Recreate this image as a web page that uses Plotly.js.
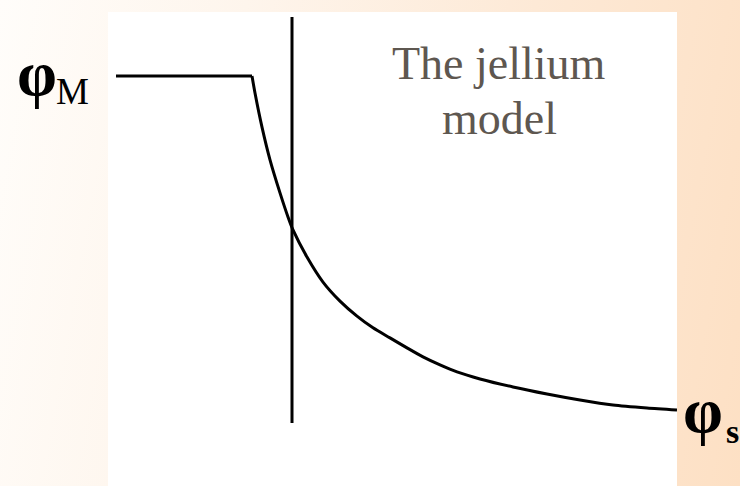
<!DOCTYPE html>
<html>
<head>
<meta charset="utf-8">
<script src="https://cdn.plot.ly/plotly-3.0.1.min.js"></script>
<style>
  html, body { margin:0; padding:0; }
  body {
    width:740px; height:486px; overflow:hidden;
    background: linear-gradient(100deg, #FFFDFA 0%, #FEF5EC 30%, #FDE9D6 65%, #FDE0C4 100%);
  }
  #chart { width:740px; height:486px; }
</style>
</head>
<body>
<div id="chart"></div>
<script>
// Inside the metal: constant potential phi_M (normalised to 1)
const metalX = [-17.6, -4.0];
const metalY = [1.000, 1.000];
// Near and outside the surface: decaying potential (distance in arbitrary units)
const distance  = [-4.0, -3.7, -3.0, -2.2, -1.2, -0.4, 0.1, 1.5, 3.1, 4.8, 6.5, 8.1, 9.8, 11.5, 13.1, 14.8, 16.5, 18.8, 22.1, 25.5, 28.8, 32.1, 35.5, 38.5];
const potential = [1.000, 0.949, 0.847, 0.749, 0.650, 0.578, 0.539, 0.458, 0.383, 0.326, 0.281, 0.246, 0.216, 0.186, 0.159, 0.135, 0.114, 0.093, 0.069, 0.048, 0.030, 0.015, 0.006, 0.000];
// Metal surface (jellium edge)
const surfaceX = [0, 0];
const surfaceY = [1.1766, -0.0389];
// Labels
const labelTitle1 = "The jellium";
const labelTitle2 = "model";
const labelPhi = "φ";
const labelM = "M";
const labelS = "s";

const traces = [
  {x: metalX, y: metalY, mode: 'lines', line: {color: '#000', width: 3}, hoverinfo: 'skip'},
  {x: distance, y: potential, mode: 'lines', line: {color: '#000', width: 3, shape: 'spline', smoothing: 0.7}, hoverinfo: 'skip'},
  {x: surfaceX, y: surfaceY, mode: 'lines', line: {color: '#000', width: 3}, hoverinfo: 'skip'}
];

const serif = 'Liberation Serif, Times New Roman, serif';
const layout = {
  width: 740, height: 486,
  margin: {l: 108, r: 63, t: 12, b: 0, pad: 0},
  paper_bgcolor: 'rgba(0,0,0,0)',
  plot_bgcolor: '#FFFFFF',
  showlegend: false,
  xaxis: {range: [-18.4, 38.5], visible: false, fixedrange: true},
  yaxis: {range: [-0.2275, 1.1916], visible: false, fixedrange: true},
  annotations: [
    {xref: 'paper', yref: 'paper', x: 0.688, y: 0.892, text: labelTitle1, showarrow: false,
     font: {family: serif, size: 46, color: '#5E5750'}, xanchor: 'center', yanchor: 'middle'},
    {xref: 'paper', yref: 'paper', x: 0.688, y: 0.776, text: labelTitle2, showarrow: false,
     font: {family: serif, size: 46, color: '#5E5750'}, xanchor: 'center', yanchor: 'middle'},
    {xref: 'paper', yref: 'paper', x: -0.125, y: 0.871, text: '<b>' + labelPhi + '</b>', showarrow: false,
     font: {family: serif, size: 64, color: '#000'}, xanchor: 'center', yanchor: 'middle'},
    {xref: 'paper', yref: 'paper', x: -0.0624, y: 0.833, text: labelM, showarrow: false,
     font: {family: serif, size: 37, color: '#000'}, xanchor: 'center', yanchor: 'middle'},
    {xref: 'paper', yref: 'paper', x: 1.045, y: 0.160, text: '<b>' + labelPhi + '</b>', showarrow: false,
     font: {family: serif, size: 64, color: '#000'}, xanchor: 'center', yanchor: 'middle'},
    {xref: 'paper', yref: 'paper', x: 1.098, y: 0.116, text: '<b>' + labelS + '</b>', showarrow: false,
     font: {family: serif, size: 34, color: '#000'}, xanchor: 'center', yanchor: 'middle'}
  ]
};

Plotly.newPlot('chart', traces, layout, {displayModeBar: false, staticPlot: true});
</script>
</body>
</html>
